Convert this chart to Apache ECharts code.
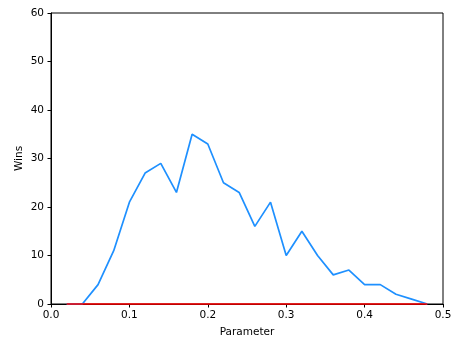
<!DOCTYPE html>
<html>
<head>
<meta charset="utf-8">
<script src="https://cdn.jsdelivr.net/npm/echarts@6/dist/echarts.min.js"></script>
<style>html,body{margin:0;padding:0;background:#fff;}#c{width:454px;height:342px;}</style>
</head>
<body>
<div id="c"></div>
<script>
const params = [0.02,0.04,0.06,0.08,0.10,0.12,0.14,0.16,0.18,0.20,0.22,0.24,0.26,0.28,0.30,0.32,0.34,0.36,0.38,0.40,0.42,0.44,0.46,0.48];
const winsBlue = [0,0,4,11,21,27,29,23,35,33,25,23,16,21,10,15,10,6,7,4,4,2,1,0];
const winsRed = [0,0,0,0,0,0,0,0,0,0,0,0,0,0,0,0,0,0,0,0,0,0,0,0];
const xTicks = [0.0,0.1,0.2,0.3,0.4,0.5];
const yTicks = [0,10,20,30,40,50,60];

const font = 'DejaVu Sans';
const chart = echarts.init(document.getElementById('c'), null, {renderer:'canvas'});
chart.setOption({
  animation:false,
  backgroundColor:'#fff',
  grid:{left:51,right:11,top:13,bottom:38,show:true,borderColor:'#000',borderWidth:1,backgroundColor:'transparent',z:0,outerBoundsMode:'none',containLabel:false},
  xAxis:{type:'value',min:xTicks[0],max:xTicks[xTicks.length-1],interval:0.1,z:0,
    name:'Parameter',nameLocation:'middle',nameGap:23,nameMoveOverlap:false,
    nameTextStyle:{fontFamily:font,fontSize:10.5,color:'#000'},
    axisLine:{show:true,onZero:false,lineStyle:{color:'#000',width:1}},
    axisTick:{show:true,length:3.5,lineStyle:{color:'#000'}},
    axisLabel:{margin:6,fontFamily:font,fontSize:10.5,color:'#000',formatter:v=>v.toFixed(1)},
    splitLine:{show:false}},
  yAxis:{type:'value',min:yTicks[0],max:yTicks[yTicks.length-1],interval:10,z:0,
    name:'Wins',nameLocation:'middle',nameGap:26,nameMoveOverlap:false,
    nameTextStyle:{fontFamily:font,fontSize:10.5,color:'#000'},
    axisLine:{show:true,onZero:false,lineStyle:{color:'#000',width:1}},
    axisTick:{show:true,length:3.5,lineStyle:{color:'#000'}},
    axisLabel:{margin:7,fontFamily:font,fontSize:10.5,color:'#000'},
    splitLine:{show:false}},
  series:[
    {type:'line',data:params.map((p,i)=>[p,winsBlue[i]]),showSymbol:false,symbol:'none',clip:false,
     lineStyle:{color:'#1e90ff',width:1.7},itemStyle:{color:'#1e90ff'},z:5},
    {type:'line',data:params.map((p,i)=>[p,winsRed[i]]),showSymbol:false,symbol:'none',clip:false,
     lineStyle:{color:'#ff0000',width:1.7},itemStyle:{color:'#ff0000'},z:10}
  ]
});
</script>
</body>
</html>
